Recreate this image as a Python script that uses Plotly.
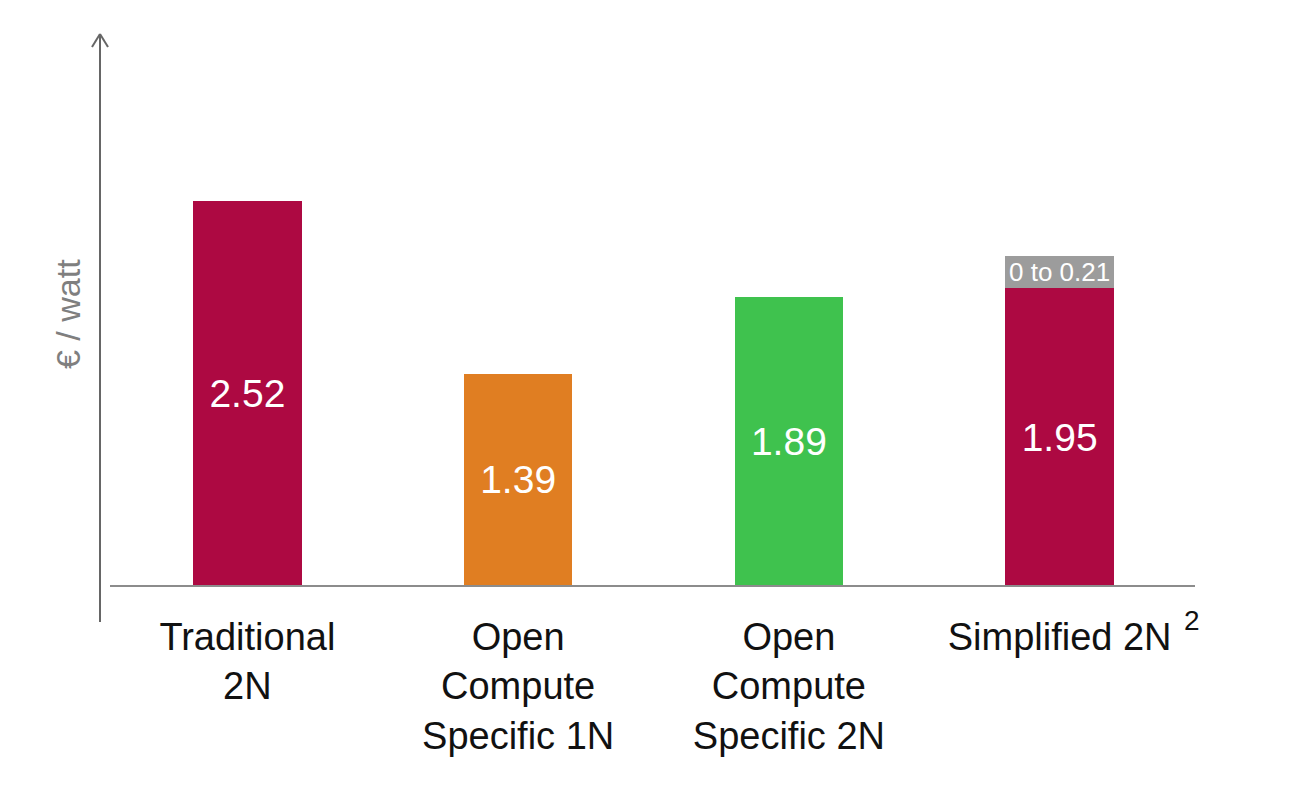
import plotly.graph_objects as go

categories = ["Traditional<br>2N", "Open<br>Compute<br>Specific 1N",
              "Open<br>Compute<br>Specific 2N", "Simplified 2N"]
values = [2.52, 1.39, 1.89, 1.95]
value_labels = ["2.52", "1.39", "1.89", "1.95"]
range_values = [0, 0, 0, 0.21]
range_labels = ["", "", "", "0 to 0.21"]
bar_colors = ["#AD0942", "#E07E22", "#3FC24E", "#AD0942"]
range_color = "#9C9C9C"

W, H = 1308, 788
L, R, T, B = 112, 113, 34, 202
PW, PH = W - L - R, H - T - B
YMAX = PH / 152.7


def px(x):
    return (x - L) / PW


def py(y):
    return (H - B - y) / PH


FONT = "Arial, Liberation Sans, sans-serif"

fig = go.Figure()
fig.add_trace(go.Bar(
    x=categories, y=values, marker=dict(color=bar_colors, line=dict(width=0)),
    text=value_labels, textposition="inside", insidetextanchor="middle",
    textangle=0, constraintext="none",
    textfont=dict(color="white", size=39, family=FONT),
    width=0.4, showlegend=False,
))
fig.add_trace(go.Bar(
    x=categories, y=range_values, marker=dict(color=range_color, line=dict(width=0)),
    text=range_labels, textposition="inside", insidetextanchor="middle",
    textangle=0, constraintext="none",
    textfont=dict(color="white", size=26, family=FONT),
    width=0.4, showlegend=False,
))

axis_col = "#666666"
shapes = [
    # y axis line with arrow
    dict(type="line", xref="paper", yref="paper", x0=px(100), x1=px(100),
         y0=py(622), y1=py(35), line=dict(color=axis_col, width=2)),
    dict(type="line", xref="paper", yref="paper", x0=px(92), x1=px(100),
         y0=py(47), y1=py(34), line=dict(color=axis_col, width=2)),
    dict(type="line", xref="paper", yref="paper", x0=px(108), x1=px(100),
         y0=py(47), y1=py(34), line=dict(color=axis_col, width=2)),
    # baseline
    dict(type="line", xref="paper", yref="paper", x0=px(110), x1=1,
         y0=0, y1=0, line=dict(color="#8C8C8C", width=2)),
]

annotations = [
    dict(text="€ / watt", xref="paper", yref="paper", x=px(68), y=py(314),
         textangle=-90, showarrow=False, xanchor="center", yanchor="middle",
         font=dict(size=34, color="#7F7F7F", family=FONT)),
    dict(text="2", xref="paper", yref="paper", x=px(1192), y=py(620),
         showarrow=False, xanchor="center", yanchor="middle",
         font=dict(size=28, color="#111111", family=FONT)),
]

fig.update_layout(
    width=W, height=H, barmode="stack",
    margin=dict(l=L, r=R, t=T, b=B),
    paper_bgcolor="white", plot_bgcolor="white",
    shapes=shapes, annotations=annotations,
    xaxis=dict(showline=False, showgrid=False, zeroline=False, ticks="",
               tickfont=dict(size=38, color="#111111", family=FONT),
               ticklabelstandoff=25,
               range=[-0.5, 3.5]),
    yaxis=dict(range=[0, YMAX], showline=False, showgrid=False,
               zeroline=False, showticklabels=False, ticks=""),
)

fig.write_html("out.html")
